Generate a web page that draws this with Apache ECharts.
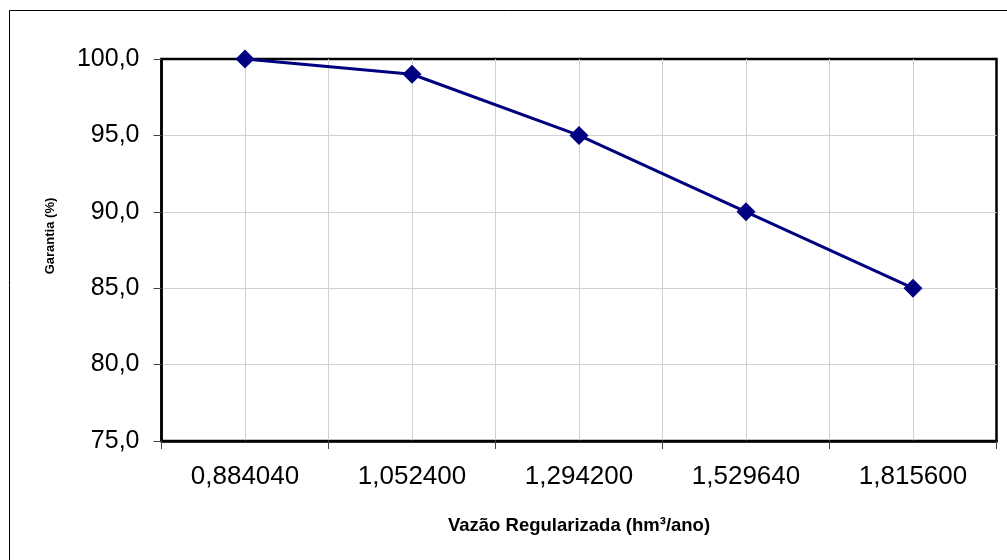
<!DOCTYPE html>
<html>
<head>
<meta charset="utf-8">
<script src="https://cdn.jsdelivr.net/npm/echarts@6/dist/echarts.min.js"></script>
<style>
html,body{margin:0;padding:0;background:#fff;}
#chart{width:1007px;height:560px;}
</style>
</head>
<body>
<div id="chart"></div>
<script>
var categories = ['0,884040', '1,052400', '1,294200', '1,529640', '1,815600'];
var garantia = [100.0, 99.0, 95.0, 90.0, 85.0];
var yTicks = [75, 80, 85, 90, 95, 100];
var xTitle = 'Vazão Regularizada (hm³/ano)';
var yTitle = 'Garantia (%)';

var chart = echarts.init(document.getElementById('chart'), null, {renderer: 'canvas'});
var font = 'Liberation Sans, Arial, sans-serif';
var option = {
  backgroundColor: '#fff',
  animation: false,
  grid: {
    left: 161.5, right: 10.5, top: 59, bottom: 119,
    show: true, borderColor: '#000', borderWidth: 2.5, backgroundColor: 'transparent'
  },
  graphic: [
    {
      type: 'rect', z: -10,
      shape: {x: 9.5, y: 10.5, width: 1020, height: 620},
      style: {fill: 'none', stroke: '#000', lineWidth: 1}
    },
    {
      type: 'text', x: 50, y: 236, rotation: Math.PI / 2,
      style: {text: yTitle, font: 'bold 13px ' + font, fill: '#000', align: 'center', verticalAlign: 'middle'}
    }
  ],
  xAxis: [
    {
      type: 'category',
      data: categories,
      boundaryGap: true,
      axisLine: {lineStyle: {color: '#000', width: 2.5}},
      axisTick: {show: true, alignWithLabel: false, length: 8, lineStyle: {color: '#444', width: 1}},
      axisLabel: {fontFamily: font, fontSize: 26, color: '#000', margin: 23},
      splitLine: {show: false},
      name: xTitle,
      nameLocation: 'middle',
      nameGap: 75,
      nameTextStyle: {fontFamily: font, fontSize: 18.5, fontWeight: 'bold', color: '#000'}
    },
    {
      type: 'value',
      min: 0, max: 10, interval: 1,
      position: 'bottom',
      axisLine: {show: false},
      axisTick: {show: false},
      axisLabel: {show: false},
      splitLine: {show: true, showMinLine: false, showMaxLine: false, lineStyle: {color: '#d0d0d0', width: 1}}
    }
  ],
  yAxis: {
    type: 'value',
    min: yTicks[0], max: yTicks[yTicks.length - 1], interval: 5,
    axisLine: {show: true, lineStyle: {color: '#000', width: 2.5}},
    axisTick: {show: true, length: 8, lineStyle: {color: '#444', width: 1}},
    axisLabel: {
      fontFamily: font, fontSize: 25, color: '#000', margin: 22,
      formatter: function (v) { return v.toFixed(1).replace('.', ','); }
    },
    splitLine: {show: true, showMinLine: false, showMaxLine: false, lineStyle: {color: '#d0d0d0', width: 1}}
  },
  series: [{
    type: 'line',
    xAxisIndex: 0,
    data: garantia,
    symbol: 'diamond',
    symbolSize: 19,
    lineStyle: {color: '#000080', width: 3},
    itemStyle: {color: '#000080'},
    z: 5
  }]
};
chart.setOption(option);
</script>
</body>
</html>
